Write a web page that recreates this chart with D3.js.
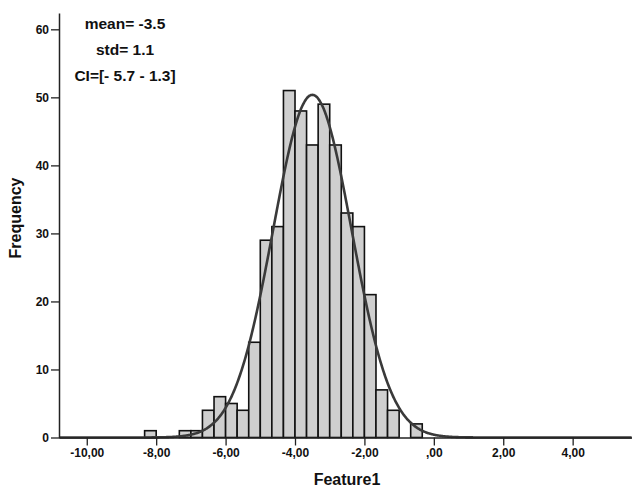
<!DOCTYPE html>
<html>
<head>
<meta charset="utf-8">
<script src="https://cdn.jsdelivr.net/npm/d3@7"></script>
<style>
  html, body { margin: 0; padding: 0; background: #fff; }
  svg { display: block; }
  text { font-family: "Liberation Sans", Arial, sans-serif; font-weight: bold; fill: #111; }
</style>
</head>
<body>
<svg id="chart" width="632" height="491"></svg>
<script>
// ---- data ----
const binStarts = [-8.333, -8.000, -7.667, -7.333, -7.000, -6.667, -6.333, -6.000, -5.667, -5.333,
                   -5.000, -4.667, -4.333, -4.000, -3.667, -3.333, -3.000, -2.667, -2.333, -2.000,
                   -1.667, -1.333, -1.000, -0.667];
const counts    = [1, 0, 0, 1, 1, 4, 6, 5, 4, 14,
                   29, 31, 51, 48, 43, 49, 43, 33, 31, 21,
                   7, 4, 0, 2];
const binWidth = 1 / 3;
const xTicks = [-10, -8, -6, -4, -2, 0, 2, 4];
const xTickLabels = ["-10,00", "-8,00", "-6,00", "-4,00", "-2,00", ",00", "2,00", "4,00"];
const yTicks = [0, 10, 20, 30, 40, 50, 60];
const statLines = ["mean= -3.5", "std= 1.1", "CI=[- 5.7 - 1.3]"];
const curveMean = -3.5;
const curveStd = 1.13;
const xLabel = "Feature1";
const yLabel = "Frequency";

// ---- layout ----
const svg = d3.select("#chart");
const mLeft = 59, mRight = 632, mTop = 13, mBottom = 437.5;
const x = d3.scaleLinear().domain([-10.80, 5.71]).range([mLeft, mRight]);
const y = d3.scaleLinear().domain([0, 62.4]).range([mBottom, mTop]);

// bars
svg.append("g").selectAll("rect")
  .data(binStarts.map((s, i) => ({ s, c: counts[i] })).filter(d => d.c > 0))
  .join("rect")
  .attr("x", d => x(d.s))
  .attr("y", d => y(d.c))
  .attr("width", d => x(d.s + binWidth) - x(d.s))
  .attr("height", d => y(0) - y(d.c))
  .attr("fill", "#cfcfcf")
  .attr("stroke", "#111")
  .attr("stroke-width", 1.6);

// normal curve scaled to counts
const N = d3.sum(counts);
const pdf = v => Math.exp(-0.5 * ((v - curveMean) / curveStd) ** 2) / (curveStd * Math.sqrt(2 * Math.PI));
const xs = d3.range(x.domain()[0], x.domain()[1] + 0.001, 0.02);
svg.append("path")
  .datum(xs)
  .attr("fill", "none")
  .attr("stroke", "#3a3a3a")
  .attr("stroke-width", 2.6)
  .attr("d", d3.line().x(v => x(v)).y(v => y(N * binWidth * pdf(v))).curve(d3.curveBasis));

// axes
const xAxis = svg.append("g")
  .attr("transform", `translate(0,${mBottom})`)
  .call(d3.axisBottom(x).tickValues(xTicks).tickFormat((d, i) => xTickLabels[i]).tickSize(8).tickSizeOuter(0).tickPadding(3));
const yAxis = svg.append("g")
  .attr("transform", `translate(${mLeft},0)`)
  .call(d3.axisLeft(y).tickValues(yTicks).tickSize(8).tickSizeOuter(0).tickPadding(2));
[xAxis, yAxis].forEach(g => {
  g.select(".domain").attr("stroke", "#222").attr("stroke-width", 1.5);
  g.selectAll(".tick line").attr("stroke", "#222").attr("stroke-width", 1.3);
  g.selectAll(".tick text").style("font-size", "12px").style("font-family", "'Liberation Sans', Arial, sans-serif").style("font-weight", "bold").attr("fill", "#111");
});

// axis titles
svg.append("text")
  .attr("x", 347).attr("y", 485)
  .attr("text-anchor", "middle")
  .style("font-size", "16px")
  .text(xLabel);
svg.append("text")
  .attr("transform", "translate(21,218) rotate(-90)")
  .attr("text-anchor", "middle")
  .style("font-size", "16px")
  .text(yLabel);

// stats annotation
svg.append("g").selectAll("text")
  .data(statLines)
  .join("text")
  .attr("x", 125)
  .attr("y", (d, i) => 29 + i * 26)
  .attr("text-anchor", "middle")
  .style("font-size", "15.5px")
  .text(d => d);
</script>
</body>
</html>
